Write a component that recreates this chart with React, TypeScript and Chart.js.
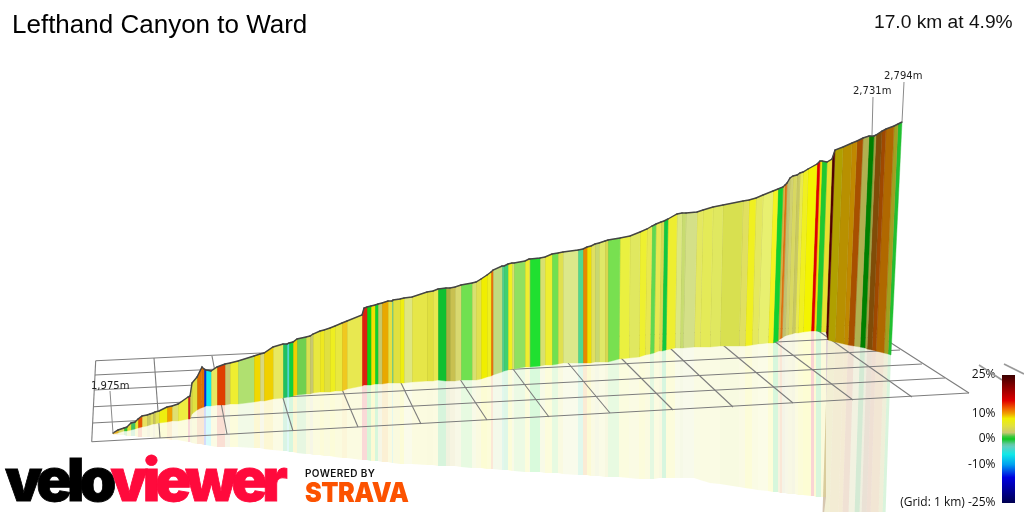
import React, { useEffect, useRef } from "react";
import { Chart, registerables } from "chart.js";

Chart.register(...registerables);

const titleText = "Lefthand Canyon to Ward";
const summaryText = "17.0 km at 4.9%";
const peakLabels = ["1,975m", "2,731m", "2,794m"];

// Projected view coordinates of the climb's segment edges
const edgeX = [113,118,124,127,131,135,138,142,147,150,153,155,159,167,172,178,188,190,192,197,202,204,206,211,217,225,230,238,254,260,264,273,283,287,289,293,297,306,310,313,320,324,330,335,342,347,362,364,367,371,375,378,382,388,392,393,400,404,412,427,433,438,446,450,455,461,472,476,481,487,491,493,502,504,508,512,514,525,529,530,540,545,552,558,563,578,583,587,591,595,599,605,608,620,630,640,647,652,656,661,664,668,677,682,686,697,703,713,723,743,749,756,763,773,778,783,785,787,790,793,797,800,803,808,817,820,822,827,832,835,843,852,857,863,869,874,876,882,886,894,898,902];
const edgeTop = [433,430,428,427,423,422,419,416,415,414,413,412,411,407,406,404,397,396,383,377,367,369,370,371,367,364,363,361,356,354,353,347,344,344,343,342,339,337,336,334,331,330,328,326,323,321,315,308,307,306,305,304,303,301,301,300,299,298,297,292,291,289,288,288,287,285,283,282,279,275,272,270,266,266,264,263,263,261,259,259,258,257,254,253,252,250,249,247,246,244,243,241,240,238,236,232,229,226,224,222,221,219,214,213,213,212,210,207,205,201,200,198,195,191,189,187,185,183,178,176,175,173,172,169,164,161,161,162,159,150,147,143,141,138,136,136,135,131,129,126,124,122];
const edgeFootX = [113,118,124,127,131,135,138,142,147,150,153,155,159,167,172,178,188,190,192,197,201,204,206,211,217,225,230,238,254,260,264,273,283,287,289,293,297,306,310,313,320,324,330,335,342,347,362,364,367,371,375,378,382,388,392,393,400,404,412,427,433,438,446,450,455,461,472,476,481,487,491,493,502,504,508,512,514,525,529,530,540,545,552,558,563,578,583,587,591,595,599,605,608,619,629,639,645,650,654,659,662,666,675,680,683,694,700,710,720,739,745,752,758,768,773,778,780,782,785,788,792,795,798,803,811,814,816,821,826,828,835,844,848,854,860,865,867,872,876,884,888,891];
const edgeFoot = [434,433,431,431,430,429,428,427,426,425,424,424,423,422,421,421,419,419,414,410,408,407,406,406,405,405,404,404,402,401,401,399,398,397,397,396,395,394,394,393,392,392,392,391,391,389,386,385,385,385,384,384,384,383,383,383,383,383,382,381,381,380,381,381,381,380,380,380,379,377,376,375,372,371,370,369,369,367,367,367,366,365,365,364,363,363,363,363,363,362,362,362,362,359,358,357,355,354,353,351,351,350,348,348,348,347,347,347,346,346,346,345,344,343,343,341,339,338,336,335,334,333,333,332,331,331,331,332,332,340,342,344,345,346,347,348,349,350,351,353,354,355];
const edgeMirror = [434,435,435,436,436,436,437,437,437,437,438,438,438,439,440,440,442,442,443,444,444,445,445,446,447,447,447,447,448,448,449,450,451,451,452,452,453,454,454,455,455,456,456,457,458,458,460,460,460,461,461,461,462,462,463,463,464,464,464,465,465,466,466,466,466,467,468,468,468,469,469,469,470,470,470,471,471,472,472,472,472,473,473,473,474,475,475,475,476,476,476,477,477,477,478,479,479,479,479,478,478,478,478,478,478,478,480,483,484,487,488,489,490,491,492,492,493,493,493,494,494,494,495,495,496,496,497,497,497,530,530,530,530,530,530,530,530,530,530,530,530,530];
const blockMirrorX = [822,829,838,842,848,854,859,861,866,870,878,882,885];
const blockStart = 129;
const stripeColors = ["#e8b020","#d8d860","#30c030","#e0e030","#40c060","#e8e830","#e85000","#e8e060","#c8c860","#e0e060","#c8c060","#e0e050","#eeee10","#f0a000","#e0e070","#eeee40","#d02020","#d0d050","#e0e040","#e07000","#e07000","#0030e0","#10e8f0","#e8e860","#e04000","#c8c870","#eeee30","#b0e070","#f0d800","#d8d880","#f0d000","#e8e860","#20c060","#50d8d0","#10d040","#f0d000","#70d050","#d8e050","#c8c870","#e8e840","#eee820","#e0e040","#eeee20","#e8e840","#f0c820","#e8e850","#e02010","#e02010","#10d010","#f0e000","#10d030","#c8c868","#e8a800","#e8e040","#60d0a0","#e0e040","#eeee10","#dfe680","#e6e648","#e0e040","#e8e850","#10c030","#a8b040","#c8c050","#d8d870","#70e050","#d8e070","#e0e050","#f0ee00","#eeee20","#e87010","#c0dc80","#50d090","#40d070","#f0f020","#d8e070","#90e060","#eeee30","#e0e060","#20e030","#d8e070","#eeee30","#70e050","#e0e050","#dce88a","#50d890","#e88800","#f0e000","#e0e060","#c8d870","#e0e868","#d8d850","#78e050","#eaf040","#e0e860","#eef030","#e8e850","#60d850","#e8e850","#d8d850","#10c840","#eeee30","#dce880","#c8dc70","#d4e088","#e4e860","#e4ea58","#e0e860","#d8e050","#e0e060","#f0f020","#e4e860","#e8f070","#f4f420","#10d030","#d8b040","#e07010","#c0c070","#d0d070","#d8d860","#c8c860","#e8e850","#f0f020","#f4f400","#e00000","#f0e000","#20c830","#e8e030","#500000","#b0a000","#b89000","#c08800","#a85000","#b0b050","#008000","#a0a040","#804c08","#a04800","#b06800","#a0a020","#20c030"];

// Floor grid: long lines (back to front) and cross lines (left to right)
const longStartX = [95.7, 95, 94.3, 93.3, 92.7, 91.7];
const longStartY = [360.7, 375, 390, 406.7, 423, 441.7];
const longEndX = [859, 879, 900, 922, 945, 969];
const longEndY = [325, 337, 350, 364, 378, 393];
const crossBackX = [95.7,154,212,269,325,383,436,492,548,599,655,706,758,813,863];
const crossBackY = [360.7,358,356,352,349,346,343,341,339,336,334,331,329,327,325];
const crossFrontX = [91.7,160,227,293,358,421,487,549,610,673,733,793,853,912,969];
const crossFrontY = [441.7,438,434,431,427,424,420,417,413,410,407,403,400,397,393];
const stubStartX = [979, 1004];
const stubStartY = [365, 364];
const stubEndX = [1002, 1024];
const stubEndY = [380, 374];

// Elevation call-outs
const leaderTopX = [110, 873, 904];
const leaderTopY = [391, 97, 82];
const leaderEndX = [113, 872, 902];
const leaderEndY = [433, 135, 122];

// Gradient legend
const legendGrades = [25,21,15,12,10,8,5,2.5,1,0,-2,-3,-6,-10,-15,-25];
const legendColors = ["#3a0000","#800000","#e00000","#f06000","#f0a000","#f0f000","#e0e040","#c8c870","#40c840","#10c820","#60c8a0","#60d0c0","#10e8e8","#00a0f0","#0000e0","#000050"];
const legendTicks = [25, 10, 0, -10, -25];
const legendBarX = [1002, 1015];
const gridNote = "(Grid: 1 km) ";

const polyPlugin = {
  id: "polyFill",
  beforeDatasetDraw(chart: any, args: any) {
    const ds = chart.data.datasets[args.index];
    if (!ds.polyFill && !ds.polyGradient) return;
    const pts = args.meta.data;
    const ctx = chart.ctx;
    ctx.save();
    ctx.beginPath();
    pts.forEach((p: any, i: number) => (i ? ctx.lineTo(p.x, p.y) : ctx.moveTo(p.x, p.y)));
    ctx.closePath();
    if (ds.polyGradient) {
      const g = ctx.createLinearGradient(0, pts[0].y, 0, pts[2].y);
      const scale = chart.scales.grade;
      const span = pts[2].y - pts[0].y;
      ds.polyGradient.forEach((s: any) => g.addColorStop((scale.getPixelForValue(s[0]) - pts[0].y) / span, s[1]));
      ctx.fillStyle = g;
      ctx.fill();
    } else {
      ctx.fillStyle = ds.polyFill;
      ctx.fill();
      if (ds.polySeam) {
        ctx.strokeStyle = ds.polyFill;
        ctx.lineWidth = 0.4;
        ctx.stroke();
        ctx.beginPath();
        ctx.moveTo(pts[0].x, pts[0].y);
        ctx.lineTo(pts[3].x, pts[3].y);
        ctx.strokeStyle = ds.polySeam;
        ctx.lineWidth = 1;
        ctx.stroke();
      }
    }
    ctx.restore();
  },
};

const hexAlpha = (hex: string, a: number) => {
  const n = parseInt(hex.slice(1), 16);
  return `rgba(${n >> 16},${(n >> 8) & 255},${n & 255},${a})`;
};

const poly = (pts: { x: number; y: number }[], extra: any) => ({
  data: pts,
  showLine: false,
  pointRadius: 0,
  ...extra,
});

const seg = (x1: number, y1: number, x2: number, y2: number, color: string, width: number) => ({
  data: [{ x: x1, y: y1 }, { x: x2, y: y2 }],
  borderColor: color,
  borderWidth: width,
  pointRadius: 0,
  fill: false,
});

function buildDatasets() {
  const walls: any[] = [];
  const mirrors: any[] = [];
  stripeColors.forEach((c, i) => {
    walls.push(
      poly(
        [
          { x: edgeX[i], y: edgeTop[i] },
          { x: edgeX[i + 1], y: edgeTop[i + 1] },
          { x: edgeFootX[i + 1], y: edgeFoot[i + 1] },
          { x: edgeFootX[i], y: edgeFoot[i] },
        ],
        { polyFill: c, polySeam: "rgba(90,90,40,0.2)" },
      ),
    );
    const mx = (k: number) => (k >= blockStart ? blockMirrorX[k - blockStart] : edgeFootX[k]);
    mirrors.push(
      poly(
        [
          { x: edgeFootX[i], y: edgeFoot[i] },
          { x: edgeFootX[i + 1], y: edgeFoot[i + 1] },
          { x: mx(i + 1), y: edgeMirror[i + 1] },
          { x: mx(i), y: edgeMirror[i] },
        ],
        { polyFill: hexAlpha(c, 0.17) },
      ),
    );
  });
  const outline = {
    data: edgeX.map((x, i) => ({ x, y: edgeTop[i] })),
    borderColor: "#444444",
    borderWidth: 1.4,
    pointRadius: 0.7,
    pointBackgroundColor: "#444444",
    pointBorderWidth: 0,
    fill: false,
  };
  const grid = [
    ...longStartX.map((x, i) => seg(x, longStartY[i], longEndX[i], longEndY[i], "#7d7d7d", 1.1)),
    ...crossBackX.map((x, i) => seg(x, crossBackY[i], crossFrontX[i], crossFrontY[i], "#7d7d7d", 1.1)),
  ];
  const stubs = stubStartX.map((x, i) => seg(x, stubStartY[i], stubEndX[i], stubEndY[i], "#999999", 1.6));
  const leaders = leaderTopX.map((x, i) => seg(x, leaderTopY[i], leaderEndX[i], leaderEndY[i], "#8a8a8a", 1));
  const top = legendGrades[0];
  const bottom = legendGrades[legendGrades.length - 1];
  const legendBar = poly(
    [
      { x: legendBarX[0], y: top },
      { x: legendBarX[1], y: top },
      { x: legendBarX[1], y: bottom },
      { x: legendBarX[0], y: bottom },
    ],
    { yAxisID: "grade", polyGradient: legendGrades.map((g, i) => [g, legendColors[i]]) },
  );
  // Index 0 is painted last
  return [legendBar, ...leaders, outline, ...walls, ...stubs, ...grid, ...mirrors];
}

const abs = (left: number, top: number, extra: React.CSSProperties = {}): React.CSSProperties => ({
  position: "absolute",
  left,
  top,
  whiteSpace: "nowrap",
  lineHeight: 1,
  ...extra,
});

export default function App() {
  const ref = useRef<HTMLCanvasElement>(null);
  useEffect(() => {
    const chart = new Chart(ref.current as HTMLCanvasElement, {
      type: "line",
      data: { datasets: buildDatasets() },
      plugins: [polyPlugin],
      options: {
        animation: false,
        responsive: false,
        layout: { padding: 0, autoPadding: false },
        plugins: { legend: { display: false }, tooltip: { enabled: false }, title: { display: false } },
        scales: {
          x: { type: "linear", display: false, min: 0, max: 1024 },
          y: { type: "linear", display: false, min: 0, max: 512, reverse: true },
          grade: {
            type: "linear",
            axis: "y",
            min: -28.5,
            max: 171.5,
            position: { x: 995.5 },
            border: { display: false },
            grid: { display: false, drawTicks: false },
            afterBuildTicks: (s: any) => {
              s.ticks = legendTicks.map((value) => ({ value }));
            },
            afterFit: (s: any) => {
              s.paddingTop = 0;
              s.paddingBottom = 0;
              s.paddingLeft = 0;
              s.paddingRight = 0;
            },
            ticks: {
              autoSkip: false,
              padding: 0,
              color: "#111111",
              font: { family: "'Open Sans'", size: 12 },
              callback: (v: any) => (v === -25 ? `${gridNote}${v}%` : `${v}%`),
            },
          },
        },
      } as any,
    } as any);
    return () => chart.destroy();
  }, []);

  const sans = "'Liberation Sans', Arial, sans-serif";
  const label = { fontFamily: "'DejaVu Sans'", fontSize: 10, color: "#222" };
  const logo = { fontFamily: "Inter", fontWeight: 900, fontSize: 59, letterSpacing: "-5px", WebkitTextStroke: "0.8px currentColor" };
  return (
    <div style={{ position: "fixed", left: 0, top: 0, width: 1024, height: 512, background: "#fff", overflow: "hidden" }}>
      <canvas ref={ref} width={1024} height={512} style={{ position: "absolute", left: 0, top: 0, display: "block" }} />
      <div style={abs(12, 11, { fontFamily: sans, fontSize: 26, color: "#000" })}>{titleText}</div>
      <div style={abs(874, 12, { fontFamily: sans, fontSize: 19.2, color: "#111" })}>{summaryText}</div>
      <div style={abs(91, 381, label)}>{peakLabels[0]}</div>
      <div style={abs(853, 86, label)}>{peakLabels[1]}</div>
      <div style={abs(884, 71, label)}>{peakLabels[2]}</div>
      <div style={abs(5, 450, { ...logo, color: "#000", transformOrigin: "left top", transform: "scaleX(1)" })}>
        velo<span style={{ color: "#ff0a3c" }}>viewer</span>
      </div>
      <div style={abs(305, 468, { fontFamily: "Inter", fontWeight: 600, fontSize: 10, letterSpacing: "0.4px", color: "#111" })}>POWERED BY</div>
      <div style={abs(305, 479, { fontFamily: "Inter", fontWeight: 900, fontSize: 27, letterSpacing: "-0.5px", color: "#fc5200", transformOrigin: "left top", transform: "scaleX(0.93)" })}>STRAVA</div>
    </div>
  );
}
